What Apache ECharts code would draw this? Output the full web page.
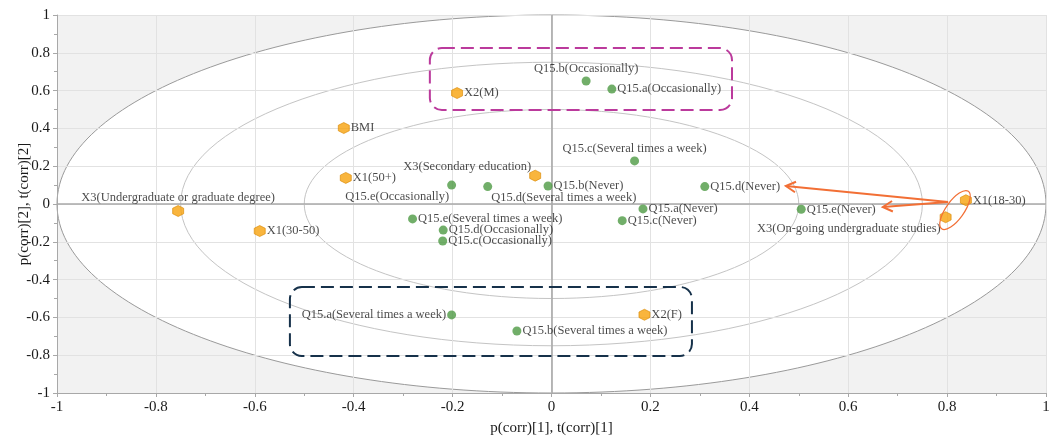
<!DOCTYPE html>
<html><head><meta charset="utf-8">
<script src="https://cdn.jsdelivr.net/npm/echarts@6/dist/echarts.min.js"></script>
<style>html,body{margin:0;padding:0;background:#fff}#c{width:1056px;height:440px}</style>
</head><body><div id="c"></div>
<script>
// ---- data ----
const varNames = ['X3(Undergraduate or graduate degree)','X1(30-50)','BMI','X1(50+)','X2(M)','X3(Secondary education)','X1(18-30)','X3(On-going undergraduate studies)','X2(F)'];
const varX = [-0.755,-0.590,-0.420,-0.416,-0.191,-0.033,0.838,0.797,0.188];
const varY = [-0.037,-0.143,0.402,0.138,0.587,0.150,0.020,-0.070,-0.586];
const qNames = ['Q15.b(Occasionally)','Q15.a(Occasionally)','Q15.c(Several times a week)','Q15.e(Occasionally)','Q15.d(Several times a week)','Q15.b(Never)','Q15.d(Never)','Q15.a(Never)','Q15.c(Never)','Q15.e(Never)','Q15.e(Several times a week)','Q15.d(Occasionally)','Q15.c(Occasionally)','Q15.a(Several times a week)','Q15.b(Several times a week)'];
const qX = [0.070,0.122,0.168,-0.202,-0.129,-0.007,0.310,0.185,0.143,0.505,-0.281,-0.219,-0.220,-0.202,-0.070];
const qY = [0.651,0.608,0.228,0.100,0.092,0.095,0.092,-0.026,-0.088,-0.028,-0.079,-0.138,-0.196,-0.587,-0.672];
const xAxisTitle = 'p(corr)[1], t(corr)[1]';
const yAxisTitle = 'p(corr)[2], t(corr)[2]';
const ellipseRadii = [1, 0.75, 0.5];
// annotation regions (data space)
const boxMagenta = [[-0.246, 0.825], [0.365, 0.497]];
const boxNavy = [[-0.529, -0.439], [0.284, -0.804]];
const ringCenter = [0.816, -0.032];
const arrowStart = [0.802, 0.011];
const arrowTips = [[0.474, 0.095], [0.670, -0.016]];

// ---- styles ----
const FONT = '"Liberation Serif", "Times New Roman", serif';
const labelPlace = {
  'X3(Undergraduate or graduate degree)': {position:'top', distance:1},
  'X3(Secondary education)': {position:'left', distance:1, offset:[3,-9]},
  'X3(On-going undergraduate studies)': {position:'left', distance:1, offset:[2,11]},
  'Q15.b(Occasionally)': {position:'top', distance:1},
  'Q15.c(Several times a week)': {position:'top', distance:1},
  'Q15.e(Occasionally)': {position:'left', distance:1, offset:[3,12]},
  'Q15.d(Several times a week)': {position:'right', distance:1, offset:[-2,11]},
  'Q15.a(Several times a week)': {position:'left', distance:1}
};
function mk(names, xs, ys) {
  return names.map((n, i) => ({name: n, value: [xs[i], ys[i]], label: labelPlace[n] || {}}));
}
const hex = 'path://M0,-10L8.66,-5L8.66,5L0,10L-8.66,5L-8.66,-5Z';
const fmt = v => String(Math.round(v * 10) / 10);
function axisCommon(name, gap) {
  return {
    type: 'value', min: -1, max: 1, interval: 0.2,
    name: name, nameLocation: 'middle', nameGap: gap, nameMoveOverlap: false,
    nameTextStyle: {fontFamily: FONT, fontSize: 15, color: '#1a1a1a'},
    axisLine: {onZero: false, lineStyle: {color: '#a8a8a8', width: 1}},
    axisTick: {show: true, length: 4, lineStyle: {color: '#a8a8a8'}},
    minorTick: {show: true, splitNumber: 2, length: 3, lineStyle: {color: '#a8a8a8'}},
    splitLine: {show: true, lineStyle: {color: '#e2e2e2', width: 1}},
    axisLabel: {fontFamily: FONT, fontSize: 15, color: '#1a1a1a', formatter: fmt, margin: 7}
  };
}
const chart = echarts.init(document.getElementById('c'), null, {renderer: 'canvas'});
chart.setOption({
  animation: false,
  grid: {left: 57, right: 10, top: 15, bottom: 47, containLabel: false, outerBoundsMode: 'none'},
  xAxis: axisCommon(xAxisTitle, 28),
  yAxis: axisCommon(yAxisTitle, 25),
  series: [
    {
      type: 'scatter', name: 'Variables', data: mk(varNames, varX, varY),
      symbol: hex, symbolSize: 11, z: 5,
      itemStyle: {color: '#f7a30c', borderColor: '#d98800', borderWidth: 0.8},
      label: {show: true, formatter: '{b}', position: 'right', distance: 1, fontFamily: FONT, fontSize: 12.5, color: '#1a1a1a'},
      markLine: {
        silent: true, symbol: 'none', animation: false,
        label: {show: false},
        lineStyle: {color: '#a8a8a8', width: 1.6, type: 'solid'},
        data: [{xAxis: 0}, {yAxis: 0}]
      }
    },
    {
      type: 'scatter', name: 'Q15', data: mk(qNames, qX, qY),
      symbol: 'circle', symbolSize: 9, z: 5,
      itemStyle: {color: '#4e9a44'},
      label: {show: true, formatter: '{b}', position: 'right', distance: 1, fontFamily: FONT, fontSize: 12.5, color: '#1a1a1a'}
    }
  ]
});

const P = p => chart.convertToPixel({xAxisIndex: 0, yAxisIndex: 0}, p);
const tl = P([-1, 1]), br = P([1, -1]), c0 = P([0, 0]);
const g = [];
g.push({type: 'rect', z: -10, silent: true, shape: {x: tl[0], y: tl[1], width: br[0]-tl[0], height: br[1]-tl[1]}, style: {fill: '#f2f2f2'}});
ellipseRadii.forEach((r, i) => {
  const e = P([r, r]);
  g.push({type: 'ellipse', z: i === 0 ? -9 : -8, silent: true,
    shape: {cx: c0[0], cy: c0[1], rx: e[0]-c0[0], ry: c0[1]-e[1]},
    style: {fill: i === 0 ? '#fff' : null, stroke: i === 0 ? '#9a9a9a' : '#c4c4c4', lineWidth: 1}});
});
function box(b, color) {
  const a = P(b[0]), d = P(b[1]);
  return {type: 'rect', z: 50, silent: true,
    shape: {x: a[0], y: a[1], width: d[0]-a[0], height: d[1]-a[1], r: 12},
    style: {fill: null, stroke: color, lineWidth: 2, lineDash: [13, 6]}};
}
g.push(box(boxMagenta, '#bb3a9c'));
g.push(box(boxNavy, '#16314a'));
const rc = P(ringCenter);
g.push({type: 'ellipse', z: 50, silent: true, x: rc[0], y: rc[1], rotation: -0.62,
  shape: {cx: 0, cy: 0, rx: 9, ry: 23}, style: {fill: null, stroke: '#f26f35', lineWidth: 1.2}});
const s = P(arrowStart);
arrowTips.forEach(t => {
  const e = P(t);
  const ang = Math.atan2(s[1]-e[1], s[0]-e[0]);
  const L = 11, a = 0.5;
  g.push({type: 'line', z: 50, silent: true, shape: {x1: s[0], y1: s[1], x2: e[0], y2: e[1]}, style: {stroke: '#f26f35', lineWidth: 2}});
  g.push({type: 'polyline', z: 50, silent: true,
    shape: {points: [[e[0]+L*Math.cos(ang+a), e[1]+L*Math.sin(ang+a)], e, [e[0]+L*Math.cos(ang-a), e[1]+L*Math.sin(ang-a)]]},
    style: {stroke: '#f26f35', lineWidth: 2, fill: null}});
});
chart.setOption({graphic: {elements: g}});
</script></body></html>
